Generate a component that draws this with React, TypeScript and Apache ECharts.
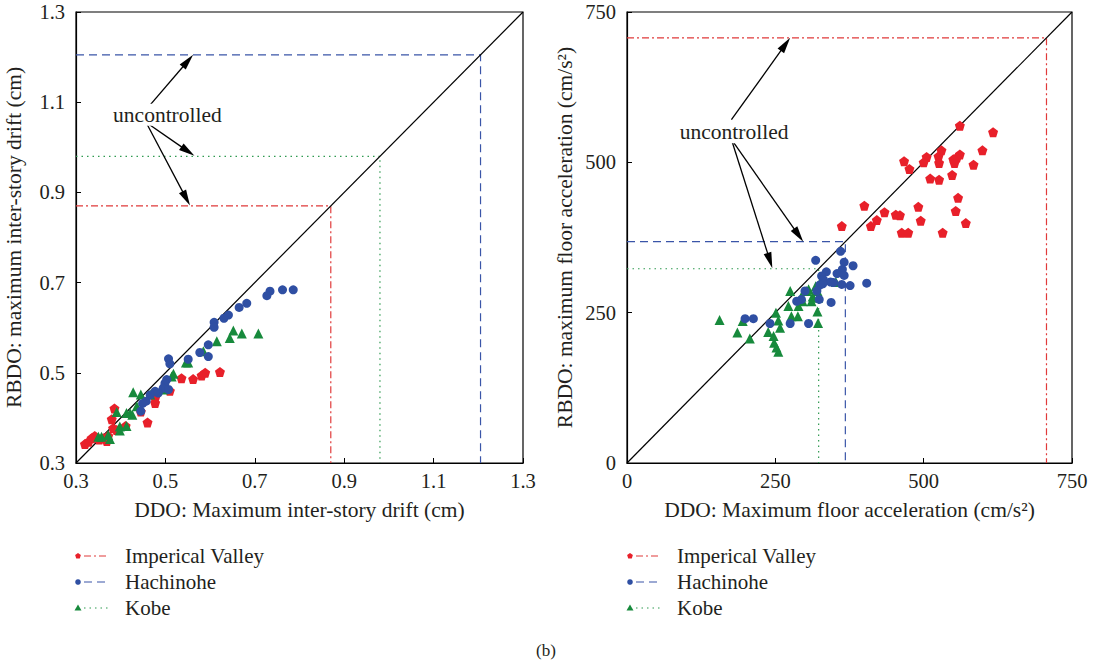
import React, { useEffect, useRef } from "react";
import * as echarts from "echarts";

// ---------- data ----------
const seriesNames = ["Imperical Valley", "Hachinohe", "Kobe"];

// Left panel: maximum inter-story drift (cm), [DDO, RBDO]
const driftImperial = [
  [0.622, 0.502], [0.589, 0.5], [0.581, 0.494], [0.562, 0.486], [0.536, 0.488],
  [0.51, 0.46], [0.477, 0.444], [0.477, 0.433], [0.46, 0.39], [0.445, 0.414],
  [0.386, 0.421], [0.38, 0.397], [0.383, 0.377], [0.391, 0.373], [0.411, 0.382],
  [0.369, 0.349], [0.361, 0.355], [0.342, 0.36], [0.335, 0.355], [0.328, 0.347],
  [0.32, 0.342], [0.352, 0.352], [0.372, 0.36],
];
const driftHachinohe = [
  [0.786, 0.684], [0.762, 0.684], [0.734, 0.681], [0.727, 0.671], [0.682, 0.654],
  [0.665, 0.645], [0.641, 0.628], [0.631, 0.621], [0.609, 0.612], [0.609, 0.601],
  [0.596, 0.562], [0.596, 0.536], [0.577, 0.545], [0.551, 0.53], [0.507, 0.531],
  [0.51, 0.52], [0.503, 0.485], [0.499, 0.477], [0.495, 0.466], [0.507, 0.463],
  [0.484, 0.455], [0.477, 0.459], [0.466, 0.451], [0.457, 0.437], [0.449, 0.432],
  [0.445, 0.415],
];
const driftKobe = [
  [0.708, 0.587], [0.671, 0.587], [0.652, 0.594], [0.644, 0.577], [0.615, 0.57],
  [0.585, 0.548], [0.551, 0.523], [0.546, 0.523], [0.514, 0.492], [0.518, 0.498],
  [0.499, 0.47], [0.495, 0.463], [0.466, 0.452], [0.428, 0.457], [0.445, 0.452],
  [0.436, 0.426], [0.413, 0.411], [0.421, 0.411], [0.426, 0.407], [0.391, 0.413],
  [0.398, 0.381], [0.413, 0.382], [0.398, 0.372], [0.372, 0.362], [0.376, 0.353],
  [0.357, 0.358], [0.35, 0.358],
];

// Right panel: maximum floor acceleration (cm/s2), [DDO, RBDO]
const accImperial = [
  [561, 561], [617, 550], [599, 520], [530, 520], [525, 510], [505, 509], [500, 500],
  [467, 502], [476, 489], [561, 513], [556, 508], [550, 505], [552, 499], [526, 499],
  [584, 496], [548, 479], [511, 473], [526, 471], [558, 441], [491, 426], [554, 419],
  [400, 428], [434, 417], [453, 413], [460, 412], [421, 404], [411, 394], [495, 403],
  [571, 399], [463, 383], [474, 383], [532, 383], [362, 394],
];
const accHachinohe = [
  [360, 352], [318, 337], [381, 328], [366, 334], [363, 322], [354, 315], [366, 312],
  [336, 318], [328, 311], [331, 305], [343, 301], [348, 300], [330, 298], [325, 296],
  [362, 297], [376, 295], [404, 299], [320, 286], [324, 272], [300, 286], [294, 272],
  [286, 269], [344, 267], [275, 232], [306, 232], [199, 240], [213, 240], [241, 232],
];
const accKobe = [
  [156, 238], [195, 236], [186, 217], [207, 207], [238, 218], [247, 211], [248, 200],
  [252, 192], [255, 185], [258, 225], [255, 237], [251, 250], [275, 286], [272, 261],
  [277, 244], [288, 244], [289, 261], [296, 269], [294, 277], [303, 286], [306, 289],
  [313, 277], [311, 269], [321, 286], [322, 275], [321, 252], [322, 233], [352, 301],
  [318, 294],
];

// uncontrolled responses (Imperical Valley, Hachinohe, Kobe)
const uncontrolledDrift = [0.87, 1.205, 0.98];
const uncontrolledAcc = [707, 368, 323];

// axis settings
const driftAxis = { min: 0.3, max: 1.3, interval: 0.2 };
const accAxis = { min: 0, max: 750, interval: 250 };

// annotation arrows ([from, to] in data units)
const driftArrows = [
  [[0.466, 1.094], [0.562, 1.205]],
  [[0.459, 1.054], [0.565, 0.981]],
  [[0.459, 1.051], [0.555, 0.871]],
];
const accArrows = [
  [[176, 571], [275, 707]],
  [[176, 538], [297, 368]],
  [[176, 538], [245, 324]],
];
const driftLabelAt = [0.383, 1.072];
const accLabelAt = [89, 550];

// ---------- styles ----------
const COLORS = ["#e8202a", "#2f4fa3", "#178a3c"];
const LINE_COLORS = ["#e03a3a", "#3a55a8", "#2f9a50"];
const DASHES = [[7, 3, 2, 3], [8, 5], [1.5, 4]];
const PENTAGON = "path://M0,-10 L9.51,-3.09 L5.88,8.09 L-5.88,8.09 L-9.51,-3.09 Z";
const SYMBOLS = [PENTAGON, "circle", "triangle"];
const SYMBOL_SIZES = [10, 9, 10];
const FONT = "'Liberation Serif', 'DejaVu Serif', serif";
const TXT = "#231f20";

function axisCfg(range: { min: number; max: number; interval: number }, name: string, isX: boolean, gridIndex: number) {
  return {
    type: "value",
    gridIndex,
    min: range.min,
    max: range.max,
    interval: range.interval,
    name,
    nameLocation: "middle",
    nameGap: isX ? 36 : 51,
    nameTextStyle: { fontFamily: FONT, fontSize: 21.5, color: TXT },
    axisLine: { show: true, onZero: false, lineStyle: { color: "#000", width: 1.2 } },
    axisTick: { show: true, inside: true, length: 5, lineStyle: { color: "#000" } },
    axisLabel: {
      fontFamily: FONT,
      fontSize: 20.5,
      color: TXT,
      margin: isX ? 7 : 11,
      showMinLabel: true,
      showMaxLabel: true,
      formatter: (v: number) => (range.max < 10 ? v.toFixed(1) : String(Math.round(v))),
    },
    splitLine: { show: false },
  };
}

function panelSeries(gridIndex: number, sets: number[][][], unc: number[], range: { min: number; max: number }) {
  const out: any[] = [];
  sets.forEach((d, i) => {
    const u = unc[i];
    out.push({
      type: "line",
      name: seriesNames[i] + " uncontrolled",
      xAxisIndex: gridIndex,
      yAxisIndex: gridIndex,
      data: [[range.min, u], [u, u], [u, range.min]],
      symbol: "none",
      lineStyle: { color: LINE_COLORS[i], width: 1.2, type: DASHES[i] },
      silent: true,
      z: 2,
    });
  });
  out.push({
    type: "line",
    name: "diagonal",
    xAxisIndex: gridIndex,
    yAxisIndex: gridIndex,
    data: [[range.min, range.min], [range.max, range.max]],
    symbol: "none",
    lineStyle: { color: "#000", width: 1.2 },
    silent: true,
    z: 3,
  });
  sets.forEach((d, i) => {
    out.push({
      type: "scatter",
      name: seriesNames[i],
      xAxisIndex: gridIndex,
      yAxisIndex: gridIndex,
      data: d,
      symbol: SYMBOLS[i],
      symbolSize: SYMBOL_SIZES[i],
      itemStyle: { color: COLORS[i], opacity: 1 },
      z: 4 + (i === 1 ? 1 : 0),
    });
  });
  return out;
}

function arrowGraphic(p0: number[], p1: number[]) {
  const dx = p1[0] - p0[0];
  const dy = p1[1] - p0[1];
  const len = Math.sqrt(dx * dx + dy * dy);
  const ux = dx / len;
  const uy = dy / len;
  const L = 16;
  const W = 4;
  const bx = p1[0] - ux * L;
  const by = p1[1] - uy * L;
  return [
    {
      type: "line",
      shape: { x1: p0[0], y1: p0[1], x2: bx + ux * 2, y2: by + uy * 2 },
      style: { stroke: "#000", lineWidth: 1.3 },
      z: 20,
    },
    {
      type: "polygon",
      shape: {
        points: [
          [p1[0], p1[1]],
          [bx - uy * W, by + ux * W],
          [bx + uy * W, by - ux * W],
        ],
      },
      style: { fill: "#000" },
      z: 20,
    },
  ];
}

function legendGraphic(x0: number, y0: number) {
  const els: any[] = [];
  seriesNames.forEach((n, i) => {
    const y = y0 + i * 26;
    if (i === 0) {
      const pts: number[][] = [];
      for (let k = 0; k < 5; k++) {
        const a = -Math.PI / 2 + (k * 2 * Math.PI) / 5;
        pts.push([x0 + 3 * Math.cos(a), y + 3 * Math.sin(a)]);
      }
      els.push({ type: "polygon", shape: { points: pts }, style: { fill: COLORS[0] } });
    } else if (i === 1) {
      els.push({ type: "circle", shape: { cx: x0, cy: y, r: 2.8 }, style: { fill: COLORS[1] } });
    } else {
      els.push({
        type: "polygon",
        shape: { points: [[x0, y - 3.5], [x0 + 3.5, y + 2.5], [x0 - 3.5, y + 2.5]] },
        style: { fill: COLORS[2] },
      });
    }
    els.push({
      type: "line",
      shape: { x1: x0 + 6, y1: y, x2: x0 + 31, y2: y },
      style: { stroke: LINE_COLORS[i], lineWidth: 1.2, lineDash: DASHES[i] },
    });
    els.push({
      type: "text",
      x: x0 + 47,
      y,
      style: { text: n, fontFamily: FONT, fontSize: 21, fill: TXT, textVerticalAlign: "middle", verticalAlign: "middle" },
    });
  });
  return els;
}

export default function App() {
  const ref = useRef<HTMLDivElement>(null);
  useEffect(() => {
    if (!ref.current) return;
    const chart = echarts.init(ref.current, undefined, { renderer: "svg" });
    const grids = [
      { left: 76, top: 12, width: 447, height: 451 },
      { left: 627, top: 12, width: 445, height: 451 },
    ];
    chart.setOption({
      animation: false,
      backgroundColor: "#fff",
      grid: grids.map((g) => ({ ...g, show: true, borderColor: "#000", borderWidth: 1.2, backgroundColor: "transparent" })),
      xAxis: [
        axisCfg(driftAxis, "DDO: Maximum inter-story drift (cm)", true, 0),
        axisCfg(accAxis, "DDO: Maximum floor acceleration (cm/s\u00b2)", true, 1),
      ],
      yAxis: [
        axisCfg(driftAxis, "RBDO: maximum inter-story drift (cm)", false, 0),
        axisCfg(accAxis, "RBDO: maximum floor acceleration (cm/s\u00b2)", false, 1),
      ],
      series: [
        ...panelSeries(0, [driftImperial, driftHachinohe, driftKobe], uncontrolledDrift, driftAxis),
        ...panelSeries(1, [accImperial, accHachinohe, accKobe], uncontrolledAcc, accAxis),
      ],
    });

    const g: any[] = [];
    const toPx = (gi: number, p: number[]) => chart.convertToPixel({ gridIndex: gi } as any, p) as number[];
    driftArrows.forEach(([a, b]) => g.push(...arrowGraphic(toPx(0, a), toPx(0, b))));
    accArrows.forEach(([a, b]) => g.push(...arrowGraphic(toPx(1, a), toPx(1, b))));
    const l0 = toPx(0, driftLabelAt);
    const l1 = toPx(1, accLabelAt);
    [l0, l1].forEach((p) =>
      g.push({
        type: "text",
        x: p[0],
        y: p[1],
        z: 21,
        style: {
          text: "uncontrolled",
          fontFamily: FONT,
          fontSize: 21.5,
          fill: TXT,
          backgroundColor: "#fff",
          verticalAlign: "middle",
          textVerticalAlign: "middle",
        },
      })
    );
    g.push(...legendGraphic(78, 556));
    g.push(...legendGraphic(630, 556));
    g.push({
      type: "text",
      x: 546,
      y: 650,
      style: { text: "(b)", fontFamily: FONT, fontSize: 17, fill: TXT, align: "center", textAlign: "center", verticalAlign: "middle", textVerticalAlign: "middle" },
    });
    chart.setOption({ graphic: g });
    return () => chart.dispose();
  }, []);
  return <div ref={ref} style={{ position: "absolute", left: 0, top: 0, width: 1093, height: 661 }} />;
}
